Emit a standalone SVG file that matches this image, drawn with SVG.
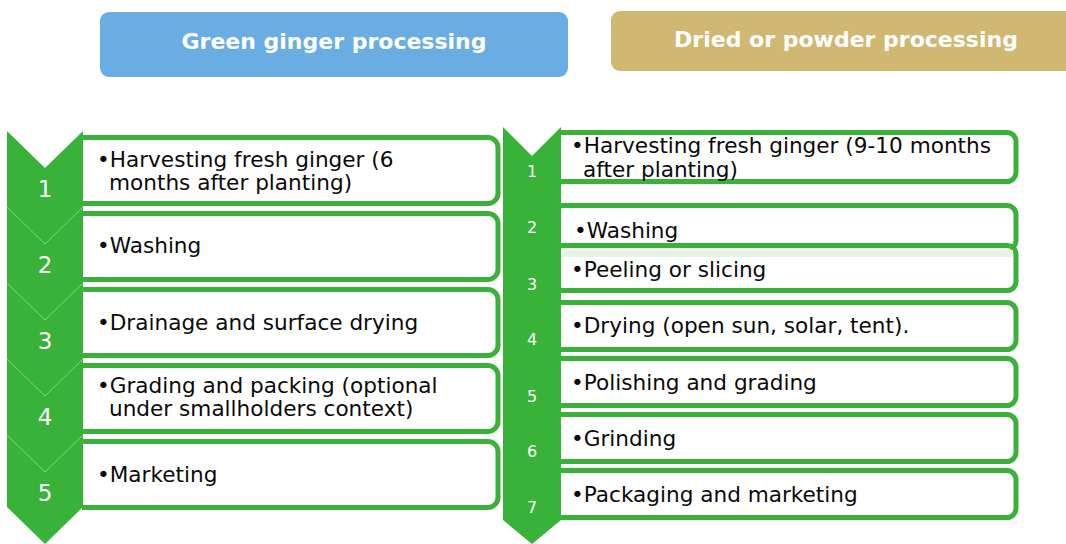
<svg xmlns="http://www.w3.org/2000/svg" width="1066" height="544" viewBox="0 0 1066 544">
<style>
.hdr{font-family:"DejaVu Sans","Liberation Sans",sans-serif;font-weight:bold;font-size:22px;fill:#ffffff;text-anchor:middle}
.box{fill:#ffffff;stroke:#3AB23A;stroke-width:5}
.col{fill:#38B239}
.sep{fill:none;stroke:#9AD89A;stroke-width:0.8}
.t{font-family:"DejaVu Sans","Liberation Sans",sans-serif;font-size:21.6px;fill:#0a0a0a}
.nl{font-family:"DejaVu Sans","Liberation Sans",sans-serif;font-size:23px;fill:#ffffff;text-anchor:middle}
.nr{font-family:"DejaVu Sans","Liberation Sans",sans-serif;font-size:16px;fill:#ffffff;text-anchor:middle}
</style>
<rect width="1066" height="544" fill="#ffffff"/>
<g id="header-green">
<rect x="100" y="12" width="468" height="65" rx="9" fill="#6AADE3"/>
<text class="hdr" x="334" y="49">Green ginger processing</text>
</g>
<g id="header-dried">
<rect x="611" y="11" width="470" height="60" rx="9" fill="#D0B872"/>
<text class="hdr" x="846" y="47">Dried or powder processing</text>
</g>
<g id="left-boxes">
<g id="g1"><path class="box" d="M82,137.5 H488 A10,10 0 0 1 498,147.5 V193.5 A10,10 0 0 1 488,203.5 H82"/>
<text class="t" x="97" y="167">•Harvesting fresh ginger (6</text>
<text class="t" x="109" y="190">months after planting)</text></g>
<g id="g2"><path class="box" d="M82,213.5 H488 A10,10 0 0 1 498,223.5 V269.5 A10,10 0 0 1 488,279.5 H82"/>
<text class="t" x="97" y="253">•Washing</text></g>
<g id="g3"><path class="box" d="M82,289.5 H488 A10,10 0 0 1 498,299.5 V345.5 A10,10 0 0 1 488,355.5 H82"/>
<text class="t" x="97" y="330">•Drainage and surface drying</text></g>
<g id="g4"><path class="box" d="M82,365.5 H488 A10,10 0 0 1 498,375.5 V421.5 A10,10 0 0 1 488,431.5 H82"/>
<text class="t" x="97" y="393">•Grading and packing (optional</text>
<text class="t" x="109" y="416">under smallholders context)</text></g>
<g id="g5"><path class="box" d="M82,441.5 H488 A10,10 0 0 1 498,451.5 V497.5 A10,10 0 0 1 488,507.5 H82"/>
<text class="t" x="97" y="482">•Marketing</text></g>
</g>
<g id="left-column">
<polygon class="col" points="7,131 45,168 83,131 83,507 45,544 7,507"/>
<polyline class="sep" points="7,207 45,244 83,207"/>
<polyline class="sep" points="7,283 45,320 83,283"/>
<polyline class="sep" points="7,359 45,396 83,359"/>
<polyline class="sep" points="7,435 45,472 83,435"/>
<text class="nl" x="45" y="197">1</text>
<text class="nl" x="45" y="273">2</text>
<text class="nl" x="45" y="349">3</text>
<text class="nl" x="45" y="425">4</text>
<text class="nl" x="45" y="501">5</text>
</g>
<g id="right-boxes">
<g id="d1"><path class="box" d="M560,132.5 H1007 A9,9 0 0 1 1016,141.5 V172.5 A9,9 0 0 1 1007,181.5 H560"/>
<text class="t" x="571" y="153">•Harvesting fresh ginger (9-10 months</text>
<text class="t" x="583" y="177">after planting)</text></g>
<g id="d2"><path class="box" d="M560,205.5 H1007 A9,9 0 0 1 1016,214.5 V240.5 A9,9 0 0 1 1007,249.5 H560"/>
<text class="t" x="574" y="238">•Washing</text></g>
<g id="d3"><path class="box" d="M560,245.5 H1007 A9,9 0 0 1 1016,254.5 V281.5 A9,9 0 0 1 1007,290.5 H560"/>
<rect x="560" y="250" width="453" height="7" fill="#E6F4E6"/>
<text class="t" x="571" y="277">•Peeling or slicing</text></g>
<g id="d4"><path class="box" d="M560,302.5 H1007 A9,9 0 0 1 1016,311.5 V340.5 A9,9 0 0 1 1007,349.5 H560"/>
<text class="t" x="571" y="333">•Drying (open sun, solar, tent).</text></g>
<g id="d5"><path class="box" d="M560,358.5 H1007 A9,9 0 0 1 1016,367.5 V396.5 A9,9 0 0 1 1007,405.5 H560"/>
<text class="t" x="571" y="390">•Polishing and grading</text></g>
<g id="d6"><path class="box" d="M560,414.5 H1007 A9,9 0 0 1 1016,423.5 V452.5 A9,9 0 0 1 1007,461.5 H560"/>
<text class="t" x="571" y="446">•Grinding</text></g>
<g id="d7"><path class="box" d="M560,470.5 H1007 A9,9 0 0 1 1016,479.5 V508.5 A9,9 0 0 1 1007,517.5 H560"/>
<text class="t" x="571" y="502">•Packaging and marketing</text></g>
</g>
<g id="right-column">
<polygon class="col" points="503,127 532,156 561,127 561,520 532,544 503,520"/>
<text class="nr" x="532" y="177">1</text>
<text class="nr" x="532" y="233">2</text>
<text class="nr" x="532" y="290">3</text>
<text class="nr" x="532" y="345">4</text>
<text class="nr" x="532" y="402">5</text>
<text class="nr" x="532" y="457">6</text>
<text class="nr" x="532" y="513">7</text>
</g>
<g id="connectors"></g>
</svg>
